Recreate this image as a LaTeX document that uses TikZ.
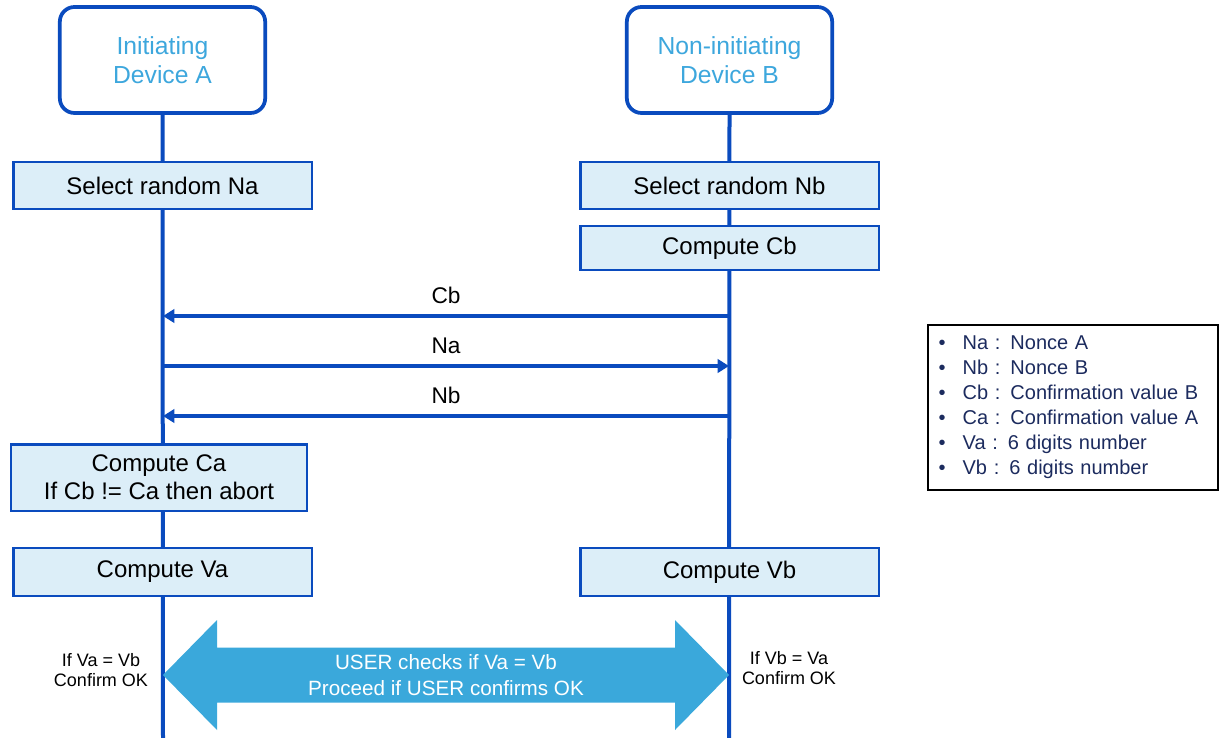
\documentclass[tikz,border=0pt]{standalone}
\usepackage{fontspec}
\setmainfont{Liberation Sans}
\usetikzlibrary{arrows.meta}

\definecolor{lineblue}{HTML}{0A4BBE}
\definecolor{boxfill}{HTML}{DCEEF8}
\definecolor{headtext}{HTML}{3DA7DD}
\definecolor{userarr}{HTML}{3AA8DB}
\definecolor{legtext}{HTML}{1C2B5E}

\begin{document}
\begin{tikzpicture}[
  x=0.75pt, y=-0.75pt,
  dev/.style={draw=lineblue, line width=2.8pt, rounded corners=11pt, fill=white,
              align=center, text=headtext, font=\fontsize{18.5}{21.5}\selectfont,
              minimum width=154pt, minimum height=79.5pt},
  act/.style={draw=lineblue, line width=2pt, fill=boxfill, align=center,
              font=\fontsize{18}{21}\selectfont, minimum width=224pt, minimum height=35pt},
  life/.style={draw=lineblue, line width=3pt},
  msg/.style={draw=lineblue, line width=2.8pt, -{Triangle[length=8.5pt, width=10pt]}},
  lbl/.style={font=\fontsize{17}{20}\selectfont, inner sep=0pt},
  note/.style={align=center, font=\fontsize{13.5}{15}\selectfont},
  legend/.style={draw=black, line width=1.3pt, align=left, text=legtext,
                 font=\fontsize{15}{18.75}\selectfont, inner xsep=8pt,
                 text width=201.5pt, minimum height=124pt}
]
\useasboundingbox (0,0) rectangle (1224,738);

% devices and lifelines
\node[dev] (devA) at (162.5,60) {Initiating\\Device A};
\node[dev] (devB) at (729.5,60) {Non-initiating\\Device B};
\coordinate (endA) at (163,738);
\coordinate (endB) at (729,738);
\draw[life] (devA.south) -- (endA);
\draw[life] (devB.south) -- (endB);

% local steps
\node[act] (selNa) at (162.5,185.5) {Select random Na};
\node[act] (selNb) at (729.5,185.5) {Select random Nb};
\node[act, minimum height=33pt] (cmpCb) at (729.5,248) {Compute Cb};
\node[act, minimum width=222pt, minimum height=50pt] (cmpCa) at (159,477.5)
     {Compute Ca\\If Cb != Ca then abort};
\node[act, minimum height=36pt] (cmpVa) at (162.5,572) {Compute Va};
\node[act, minimum height=36pt] (cmpVb) at (729.5,572) {Compute Vb};

% messages
\coordinate (cbA) at (163,316);  \coordinate (cbB) at (729,316);
\coordinate (naA) at (163,366);  \coordinate (naB) at (729,366);
\coordinate (nbA) at (163,416);  \coordinate (nbB) at (729,416);
\draw[msg] (cbB) -- node[lbl, midway, above=8pt] (cbLbl) {Cb} (cbA);
\draw[msg] (naA) -- node[lbl, midway, above=8pt] (naLbl) {Na} (naB);
\draw[msg] (nbB) -- node[lbl, midway, above=8pt] (nbLbl) {Nb} (nbA);

% user comparison
\coordinate (usrA) at (163,675);
\coordinate (usrB) at (729,675);
\fill[userarr] (usrA) -- ++(54,-55) -- ++(0,27.5) -- ([shift={(-54,-27.5)}]usrB)
  -- ++(0,-27.5) -- (usrB) -- ++(-54,55) -- ++(0,-27.5)
  -- ([shift={(54,27.5)}]usrA) -- ++(0,27.5) -- cycle;
\node[align=center, text=white, font=\fontsize{15.5}{19.5}\selectfont] (usrTxt)
     at (446,675) {USER checks if Va = Vb\\Proceed if USER confirms OK};
\node[note] (okA) at (101,670) {If Va = Vb\\Confirm OK};
\node[note] (okB) at (789,668) {If Vb = Va\\Confirm OK};

% legend
\node[legend] (leg) at (1073,407.5) {%
  \makebox[18pt][l]{\textbullet}Na : Nonce A\\
  \makebox[18pt][l]{\textbullet}Nb : Nonce B\\
  \makebox[18pt][l]{\textbullet}Cb : Confirmation value B\\
  \makebox[18pt][l]{\textbullet}Ca : Confirmation value A\\
  \makebox[18pt][l]{\textbullet}Va : 6 digits number\\
  \makebox[18pt][l]{\textbullet}Vb : 6 digits number};
\end{tikzpicture}
\end{document}
